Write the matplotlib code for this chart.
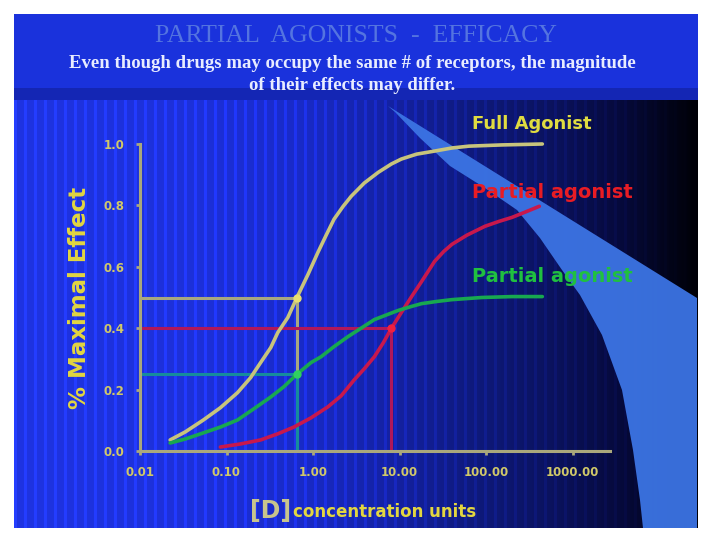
import matplotlib
matplotlib.use("Agg")
import matplotlib.pyplot as plt
from matplotlib.patches import Polygon, Rectangle
import numpy as np

# dose-response readings (concentration units, fraction of maximal effect)
full_conc = [0.0223, 0.0333, 0.054, 0.085, 0.134, 0.19, 0.248, 0.325, 0.392, 0.512, 0.652,
             0.875, 1.14, 1.42, 1.75, 2.23, 2.77, 3.92, 5.7, 8.07, 10.5, 15.8, 25.5, 40.3,
             63.4, 153.0, 448.0]
full_eff = [0.036, 0.062, 0.101, 0.141, 0.19, 0.239, 0.288, 0.337, 0.386, 0.435, 0.50,
            0.575, 0.647, 0.703, 0.755, 0.797, 0.83, 0.873, 0.908, 0.935, 0.951, 0.967,
            0.977, 0.987, 0.993, 0.997, 1.0]

red_conc = [0.085, 0.1455, 0.248, 0.392, 0.601, 0.948, 1.49, 2.12, 3.0, 3.92, 5.12, 6.51,
            8.07, 10.5, 13.8, 18.0, 25.5, 32.5, 40.3, 60.1, 97.3, 141.6, 200.0, 300.0, 413.0]
red_eff = [0.013, 0.023, 0.036, 0.056, 0.078, 0.108, 0.144, 0.18, 0.232, 0.268, 0.307,
           0.353, 0.40, 0.451, 0.503, 0.552, 0.618, 0.65, 0.673, 0.703, 0.732, 0.748,
           0.761, 0.781, 0.797]

green_conc = [0.0223, 0.0333, 0.054, 0.085, 0.134, 0.206, 0.325, 0.459, 0.652, 0.948, 1.24,
              1.75, 2.55, 3.69, 5.12, 7.18, 9.7, 13.8, 18.0, 26.8, 40.3, 89.0, 200.0, 448.0]
green_eff = [0.026, 0.039, 0.059, 0.078, 0.101, 0.137, 0.176, 0.209, 0.25, 0.288, 0.307,
             0.34, 0.373, 0.402, 0.428, 0.444, 0.458, 0.471, 0.48, 0.487, 0.493, 0.50,
             0.503, 0.503]

# reference points marked with guide lines
full_ref = (0.652, 0.50)
red_ref = (8.07, 0.40)
green_ref = (0.652, 0.25)

xticks = [0.01, 0.1, 1, 10, 100, 1000]
xticklabels = ["0.01", "0.10", "1.00", "10.00", "100.00", "1000.00"]
yticks = [0.0, 0.2, 0.4, 0.6, 0.8, 1.0]

fig = plt.figure(figsize=(7.2, 5.4), dpi=100)
fig.patch.set_facecolor("white")

# slide background in pixel coordinates
bg = fig.add_axes([0, 0, 1, 1])
bg.set_xlim(0, 720)
bg.set_ylim(540, 0)
bg.axis("off")

cols = np.arange(14, 698)
anchor_x = [14, 200, 300, 400, 470, 550, 620, 670, 698]
r = np.interp(cols, anchor_x, [32, 30, 26, 20, 15, 11, 6, 2, 0])
g = np.interp(cols, anchor_x, [54, 50, 44, 34, 27, 19, 10, 4, 0])
b = np.interp(cols, anchor_x, [235, 226, 208, 165, 130, 98, 62, 25, 5])
stripe = np.where(((cols - 14) % 10) < 3, 1.15, 0.96)
row = np.stack([r * stripe, g * stripe, b * stripe], axis=-1)
row = np.clip(row, 0, 255) / 255.0
img = np.repeat(row[None, :, :], 2, axis=0)
bg.imshow(img, extent=(14, 698, 528, 100), aspect="auto", interpolation="bilinear", zorder=0)

# header band
bg.add_patch(Rectangle((14, 14), 684, 76, facecolor="#1a32dc", edgecolor="none", zorder=1))
bg.add_patch(Rectangle((14, 88), 684, 12, facecolor="#1426b4", edgecolor="none", zorder=1))

# light-blue wedge on the right
wedge = [(388, 106), (697, 298), (697, 528), (643, 528), (640, 500), (633, 450),
         (622, 390), (602, 335), (580, 295), (562, 270), (540, 238), (517, 210),
         (485, 188), (450, 166), (420, 138), (395, 112)]
bg.add_patch(Polygon(wedge, closed=True, facecolor="#3c74e4", edgecolor="none", alpha=0.95, zorder=2))

bg.text(356, 36, "PARTIAL  AGONISTS  -  EFFICACY", ha="center", va="center",
        fontsize=18.5, family="Liberation Serif", color="#5474e0", zorder=3)
bg.text(352, 63, "Even though drugs may occupy the same # of receptors, the magnitude",
        ha="center", va="center", fontsize=13.5, fontweight="bold", family="Liberation Serif",
        color="#e8ecff", zorder=3)
bg.text(352, 86, "of their effects may differ.", ha="center", va="center", fontsize=13.5,
        fontweight="bold", family="Liberation Serif", color="#e8ecff", zorder=3)

# main chart
ax = fig.add_axes([140 / 720, 89 / 540, 470 / 720, 307 / 540])
ax.patch.set_alpha(0)
ax.set_xscale("log")
ax.set_xlim(0.01, 0.01 * 10 ** (470 / 86.5))
ax.set_ylim(0, 1.0)

axis_col = "#aaa87c"
tick_col = "#d0c868"
label_col = "#e2d640"

# guide lines
ax.plot([0.01, full_ref[0], full_ref[0]], [full_ref[1], full_ref[1], 0], color="#a8a880", lw=2.2, zorder=2)
ax.plot([0.01, red_ref[0], red_ref[0]], [red_ref[1], red_ref[1], 0], color="#b0185a", lw=2.2, zorder=2)
ax.plot([0.01, green_ref[0], green_ref[0]], [green_ref[1], green_ref[1], 0], color="#168c9c", lw=2.2, zorder=2)

ax.plot(full_conc, full_eff, color="#c8c47c", lw=2.6, zorder=4, clip_on=False, solid_capstyle="round")
ax.plot(red_conc, red_eff, color="#c8184c", lw=2.6, zorder=4, clip_on=False, solid_capstyle="round")
ax.plot(green_conc, green_eff, color="#18a850", lw=2.6, zorder=4, clip_on=False, solid_capstyle="round")

ax.plot(*full_ref, "o", color="#e8e070", ms=5, zorder=5)
ax.plot(*red_ref, "o", color="#f02040", ms=5, zorder=5)
ax.plot(*green_ref, "o", color="#30d060", ms=5, zorder=5)

for side in ["top", "right"]:
    ax.spines[side].set_visible(False)
for side in ["left", "bottom"]:
    ax.spines[side].set_color(axis_col)
    ax.spines[side].set_linewidth(2.2)
ax.spines["left"].set_bounds(0, 1.0)

ax.set_xticks(xticks)
ax.set_xticklabels(xticklabels)
ax.xaxis.set_minor_locator(matplotlib.ticker.NullLocator())
ax.set_yticks(yticks)
ax.set_yticklabels([f"{v:.1f}" for v in yticks])
ax.tick_params(colors=axis_col, length=3, width=2, labelsize=8.5, labelcolor=tick_col, pad=8)
for lab in ax.get_xticklabels() + ax.get_yticklabels():
    lab.set_fontweight("bold")

ax.set_ylabel("% Maximal Effect", fontsize=16.5, fontweight="bold", color=label_col, labelpad=9)

# curve labels and x label in pixel coordinates
bg.text(472, 124, "Full Agonist", ha="left", va="center", fontsize=13, fontweight="bold",
        color="#e0dc40", zorder=6)
bg.text(472, 193, "Partial agonist", ha="left", va="center", fontsize=14, fontweight="bold",
        color="#e81c24", zorder=6)
bg.text(472, 277, "Partial agonist", ha="left", va="center", fontsize=14, fontweight="bold",
        color="#20c040", zorder=6)
bg.set_zorder(0)
ax.set_zorder(1)
fig.text(250 / 720, 1 - 511 / 540, "[D]", ha="left", va="center", fontsize=17, fontweight="bold",
         color="#c8c48c")
fig.text(293 / 720, 1 - 512 / 540, "concentration units", ha="left", va="center", fontsize=12,
         fontweight="bold", color=label_col)

fig.savefig("out.png", dpi=100, facecolor=fig.get_facecolor())
